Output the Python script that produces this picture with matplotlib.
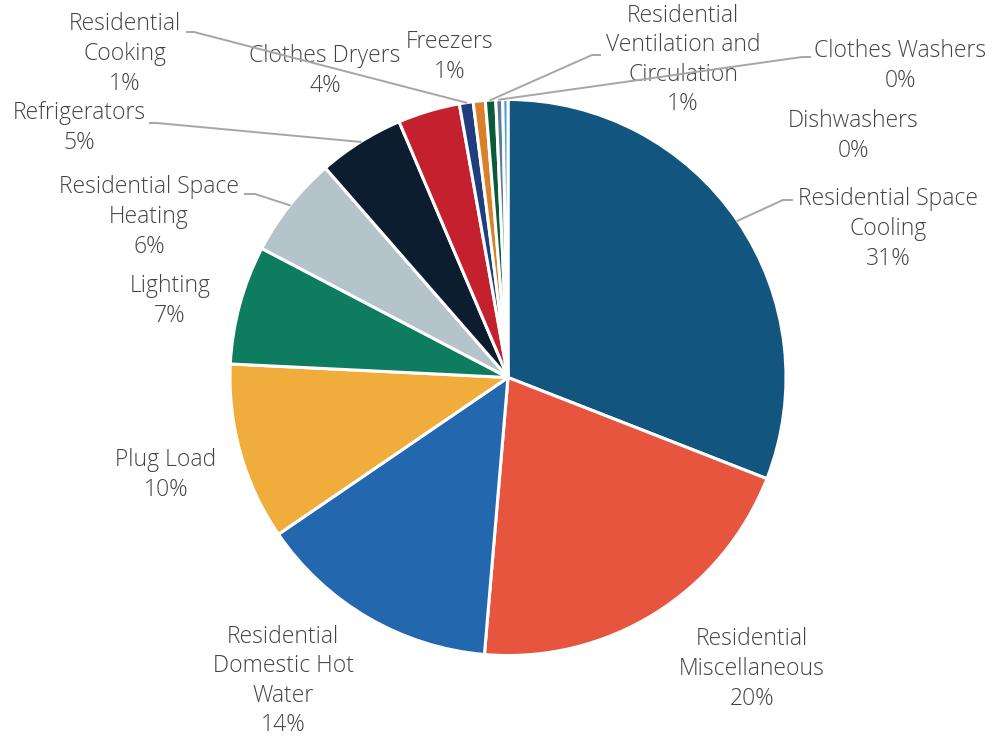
import matplotlib.pyplot as plt
import numpy as np

# end-use shares (percent of total)
categories = [
    "Residential Space\nCooling",
    "Residential\nMiscellaneous",
    "Residential\nDomestic Hot\nWater",
    "Plug Load",
    "Lighting",
    "Residential Space\nHeating",
    "Refrigerators",
    "Clothes Dryers",
    "Residential\nCooking",
    "Freezers",
    "Residential\nVentilation and\nCirculation",
    "Clothes Washers",
    "Dishwashers",
]
shares = [30.9, 20.4, 14.1, 10.3, 6.9, 5.9, 5.0, 3.6, 0.8, 0.7, 0.6, 0.4, 0.3]
colors = [
    "#12557F", "#E8553F", "#2367AE", "#F1AD3C", "#0E7C5E", "#B5C3CB", "#0C1D30",
    "#C5202D", "#1F3E7E", "#D98028", "#0B5A3A", "#5E7D8F", "#3C9BD8",
]

W, H = 997, 738
CX, CY, R = 508, 377.5, 278

# label centre (pixels from top-left) and optional leader (start, knee)
label_pos = [
    (888, 229), (752, 669), (283, 681), (166, 475), (170, 301), (149, 217),
    (79, 128), (325, 71), (125, 54), (450, 57), (683, 60), (900, 66), (853, 136),
]
leaders = {
    0: [(792, 200), (783, 200)],
    5: [(245, 194), (255, 194)],
    6: [(150, 123), (157, 123)],
    8: [(187, 32), (194, 32)],
    10: [(600, 55), (592, 55)],
    11: [(810, 57), (802, 57)],
}

plt.rcParams['font.family'] = ['Open Sans', 'DejaVu Sans']

fig = plt.figure(figsize=(W / 100, H / 100), dpi=100)
ax = fig.add_axes([0, 0, 1, 1])
ax.set_xlim(0, W)
ax.set_ylim(0, H)
ax.set_aspect('equal')
ax.axis('off')

wedges, _ = ax.pie(shares, colors=colors, startangle=90, counterclock=False,
                   center=(CX, H - CY), radius=R,
                   wedgeprops=dict(edgecolor='white', linewidth=2.2))
ax.set_xlim(0, W)
ax.set_ylim(0, H)

total = sum(shares)
for i, (name, v) in enumerate(zip(categories, shares)):
    pct = int(np.floor(v / total * 100 + 0.5))
    x, y = label_pos[i]
    ax.text(x, H - y, f"{name}\n{pct}%", ha='center', va='center',
            fontsize=16.5, fontweight='light', color='#444444', linespacing=1.31)
    if i in leaders:
        w = wedges[i]
        mid = np.deg2rad((w.theta1 + w.theta2) / 2)
        rim = (CX + R * np.cos(mid), H - CY + R * np.sin(mid))
        (sx, sy), (kx, ky) = leaders[i]
        ax.plot([sx, kx, rim[0]], [H - sy, H - ky, rim[1]], color='#A6A6A6',
                linewidth=1.4, zorder=3)

fig.savefig("out.png", dpi=100, facecolor='white')
